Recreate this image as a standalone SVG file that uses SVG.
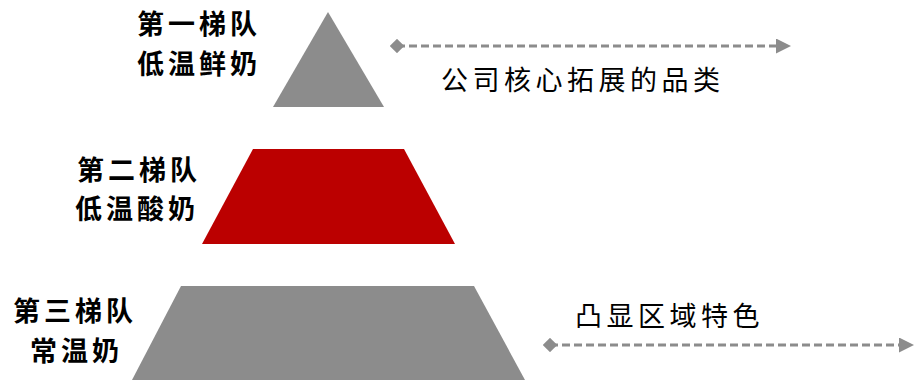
<svg xmlns="http://www.w3.org/2000/svg" width="915" height="380" viewBox="0 0 915 380">
<style>
.lbl{font-family:"Noto Sans CJK SC","Noto Sans CJK JP",sans-serif;font-size:27px;font-weight:bold;letter-spacing:4px;fill:#000}
.note{font-family:"Noto Sans CJK SC","Noto Sans CJK JP",sans-serif;font-size:27px;letter-spacing:4.5px;fill:#000}
.gray{fill:#8c8c8c}
.red{fill:#bb0000}
.dash{stroke:#8c8c8c;stroke-width:3;stroke-dasharray:8 4;fill:none}
</style>
<defs>
<marker id="arr" viewBox="0 0 10 10" refX="2" refY="5" markerWidth="5" markerHeight="5" orient="auto" markerUnits="strokeWidth">
<path d="M0,0 L10,5 L0,10 z" fill="#8c8c8c"/>
</marker>
<marker id="dia" viewBox="0 0 10 10" refX="5" refY="5" markerWidth="4.8" markerHeight="4.8" orient="auto" markerUnits="strokeWidth">
<path d="M5,0 L10,5 L5,10 L0,5 z" fill="#8c8c8c"/>
</marker>
</defs>
<g id="tier1">
<polygon class="gray" points="328,12 384,107 273,107"/>
<text class="lbl" x="137" y="34">第一梯队</text>
<text class="lbl" x="137" y="74">低温鲜奶</text>
</g>
<g id="tier2">
<polygon class="red" points="253,149 404,149 455,244 202,244"/>
<text class="lbl" x="77" y="180">第二梯队</text>
<text class="lbl" x="75" y="219">低温酸奶</text>
</g>
<g id="tier3">
<polygon class="gray" points="181,286 474,286 525,380 132,380"/>
<text class="lbl" x="13" y="321">第三梯队</text>
<text class="lbl" x="30" y="361">常温奶</text>
</g>
<g id="note1">
<text class="note" x="441" y="90">公司核心拓展的品类</text>
</g>
<g id="note2">
<text class="note" x="575" y="326">凸显区域特色</text>
</g>
<g id="connectors">
<line class="dash" x1="397" y1="46" x2="779" y2="46" marker-start="url(#dia)" marker-end="url(#arr)"/>
<line class="dash" x1="550" y1="345" x2="902" y2="345" marker-start="url(#dia)" marker-end="url(#arr)"/>
</g>
</svg>
